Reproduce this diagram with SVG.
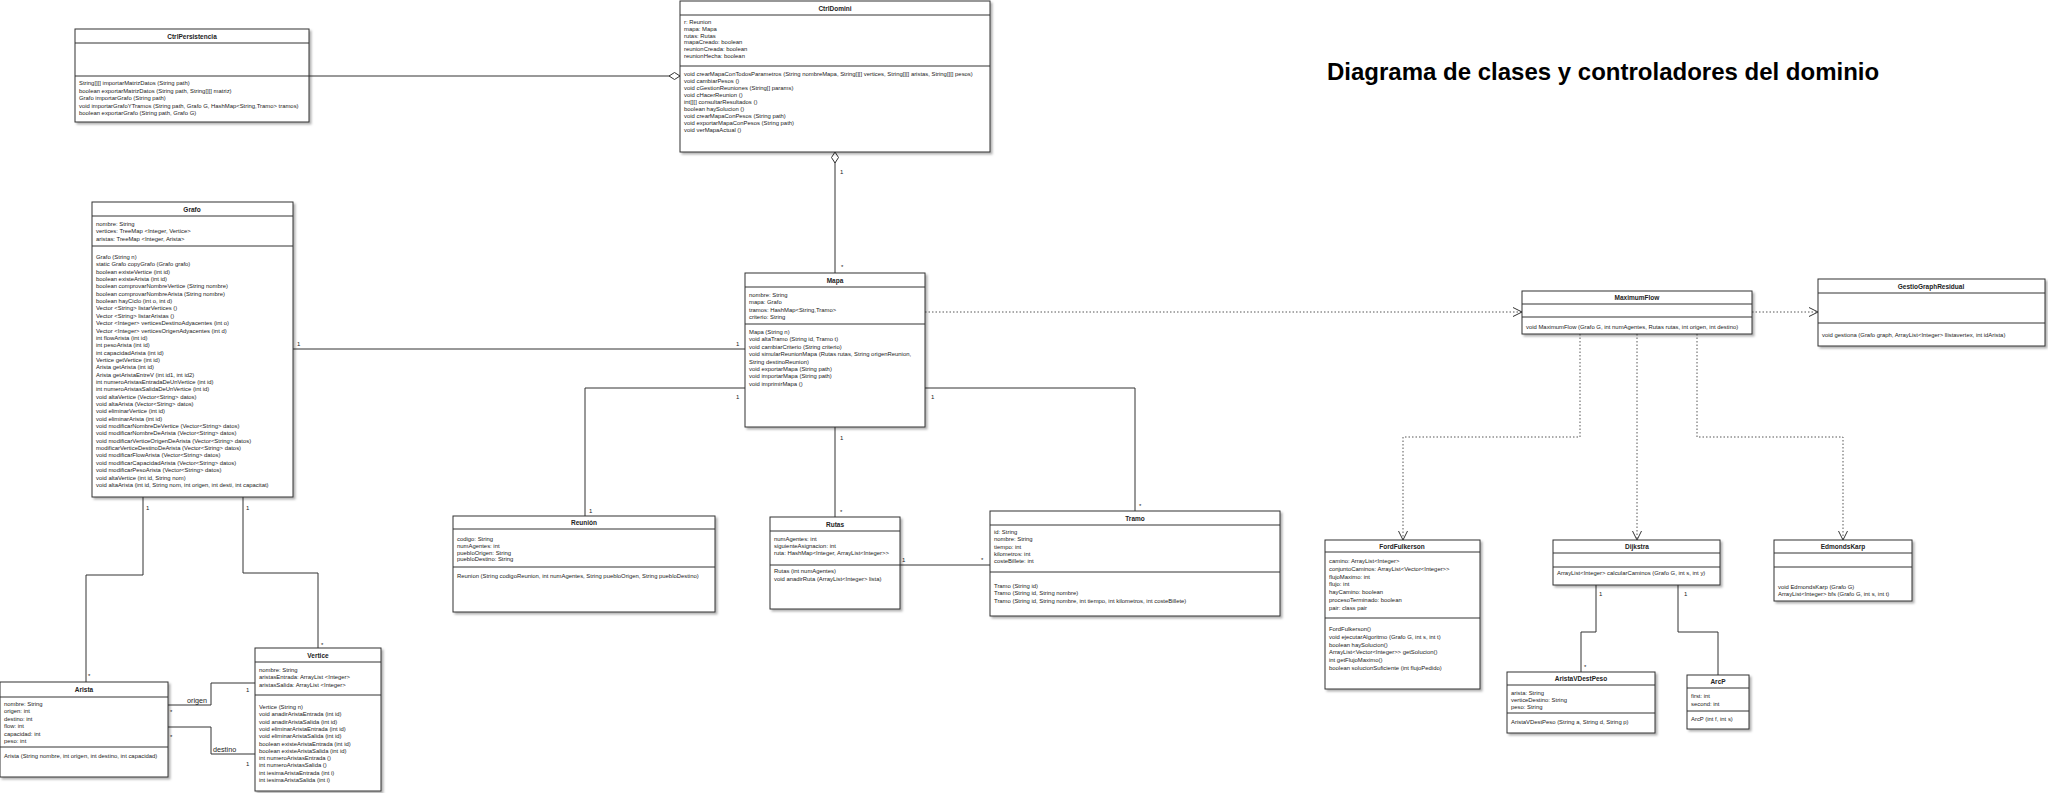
<svg xmlns="http://www.w3.org/2000/svg" width="2048" height="793" viewBox="0 0 2048 793">
<defs>
<filter id="sh" x="-10%" y="-10%" width="120%" height="120%"><feDropShadow dx="2" dy="2" stdDeviation="1" flood-color="#000" flood-opacity="0.3"/></filter>
<marker id="arr" markerUnits="userSpaceOnUse" markerWidth="12" markerHeight="10" refX="10" refY="5" orient="auto"><path d="M1,0.5 L10,5 L1,9.5" fill="none" stroke="#333" stroke-width="1"/></marker>
<marker id="dia" markerUnits="userSpaceOnUse" markerWidth="13" markerHeight="9" refX="12" refY="4.5" orient="auto"><path d="M1,4.5 L6.5,1 L12,4.5 L6.5,8 Z" fill="#fff" stroke="#333" stroke-width="1"/></marker>
</defs>
<style>
.box{fill:#fff;stroke:#333;stroke-width:1;filter:url(#sh)}
.sep{stroke:#333;stroke-width:1}
.h{font-family:"Liberation Sans",Arial,sans-serif;font-size:6.5px;font-weight:bold;text-anchor:middle;fill:#222}
.m{font-family:"Liberation Sans",Arial,sans-serif;font-size:5.9px;fill:#222}
.c{fill:none;stroke:#333;stroke-width:1}
.d{fill:none;stroke:#444;stroke-width:0.9;stroke-dasharray:1.5,2}
.l{font-family:"Liberation Sans",Arial,sans-serif;font-size:6px;fill:#222}
.r{font-family:"Liberation Sans",Arial,sans-serif;font-size:7.2px;fill:#222}
.t{font-family:"Liberation Sans",Arial,sans-serif;font-size:24px;font-weight:bold;fill:#000}
</style>
<rect width="2048" height="793" fill="#fff"/>
<text class="t" x="1327" y="80">Diagrama de clases y controladores del dominio</text>

<g id="connectors">
<path class="c" d="M309,76 H680" marker-end="url(#dia)"/>
<path class="c" d="M835,273 V152" marker-end="url(#dia)"/>
<path class="c" d="M293,349 H745"/>
<path class="c" d="M745,388 H585 V516"/>
<path class="c" d="M835,427 V517"/>
<path class="c" d="M925,388 H1135 V511"/>
<path class="c" d="M900,565 H990"/>
<path class="d" d="M925,312 H1522" marker-end="url(#arr)"/>
<path class="d" d="M1752,312 H1818" marker-end="url(#arr)"/>
<path class="d" d="M1580,334 V437 H1403 V540" marker-end="url(#arr)"/>
<path class="d" d="M1637,334 V540" marker-end="url(#arr)"/>
<path class="d" d="M1697,334 V437 H1843 V540" marker-end="url(#arr)"/>
<path class="c" d="M1596,585 V632 H1581 V672"/>
<path class="c" d="M1678,585 V632 H1718 V675"/>
<path class="c" d="M143,497 V575 H86 V682"/>
<path class="c" d="M243,497 V573 H318 V648"/>
<path class="c" d="M168,705 H211 V683 H255"/>
<path class="c" d="M168,727 H211 V754 H255"/>
<text class="l" x="840" y="174">1</text>
<text class="l" x="841" y="269">*</text>
<text class="l" x="297" y="346">1</text>
<text class="l" x="736" y="346">1</text>
<text class="l" x="736" y="399">1</text>
<text class="l" x="589" y="513">1</text>
<text class="l" x="931" y="399">1</text>
<text class="l" x="1139" y="508">*</text>
<text class="l" x="840" y="440">1</text>
<text class="l" x="840" y="514">*</text>
<text class="l" x="902" y="562">1</text>
<text class="l" x="981" y="562">*</text>
<text class="l" x="1599" y="596">1</text>
<text class="l" x="1684" y="596">1</text>
<text class="l" x="1584" y="669">*</text>
<text class="l" x="146" y="510">1</text>
<text class="l" x="88" y="678">*</text>
<text class="l" x="246" y="510">1</text>
<text class="l" x="321" y="647">*</text>
<text class="r" x="187" y="703">origen</text>
<text class="r" x="213" y="752">destino</text>
<text class="l" x="170" y="714">*</text>
<text class="l" x="170" y="739">*</text>
<text class="l" x="246" y="692">1</text>
<text class="l" x="246" y="766">1</text>
</g>

<g id="CtrlPersistencia">
<rect class="box" x="75" y="29" width="234" height="93"/>
<line class="sep" x1="75" y1="43" x2="309" y2="43"/>
<line class="sep" x1="75" y1="76" x2="309" y2="76"/>
<text class="h" x="192" y="39">CtrlPersistencia</text>
<text class="m" x="79" y="85"><tspan x="79">String[][] importarMatrizDatos (String path)</tspan><tspan x="79" dy="7.6">boolean exportarMatrizDatos (String path, String[][] matriz)</tspan><tspan x="79" dy="7.6">Grafo importarGrafo (String path)</tspan><tspan x="79" dy="7.6">void importarGrafoYTramos (String path, Grafo G, HashMap&lt;String,Tramo&gt; tramos)</tspan><tspan x="79" dy="7.6">boolean exportarGrafo (String path, Grafo G)</tspan></text>
</g>

<g id="CtrlDomini">
<rect class="box" x="680" y="1" width="310" height="151"/>
<line class="sep" x1="680" y1="15" x2="990" y2="15"/>
<line class="sep" x1="680" y1="66" x2="990" y2="66"/>
<text class="h" x="835" y="11">CtrlDomini</text>
<text class="m" x="684" y="24"><tspan x="684">r: Reunion</tspan><tspan x="684" dy="6.8">mapa: Mapa</tspan><tspan x="684" dy="6.8">rutas: Rutas</tspan><tspan x="684" dy="6.8">mapaCreado: boolean</tspan><tspan x="684" dy="6.8">reunionCreada: boolean</tspan><tspan x="684" dy="6.8">reunionHecha: boolean</tspan></text>
<text class="m" x="684" y="76"><tspan x="684">void crearMapaConTodosParametros (String nombreMapa, String[][] vertices, String[][] aristas, String[][] pesos)</tspan><tspan x="684" dy="7">void cambiarPesos ()</tspan><tspan x="684" dy="7">void cGestionReuniones (String[] params)</tspan><tspan x="684" dy="7">void cHacerReunion ()</tspan><tspan x="684" dy="7">int[][] consultarResultados ()</tspan><tspan x="684" dy="7">boolean haySolucion ()</tspan><tspan x="684" dy="7">void crearMapaConPesos (String path)</tspan><tspan x="684" dy="7">void exportarMapaConPesos (String path)</tspan><tspan x="684" dy="7">void verMapaActual ()</tspan></text>
</g>

<g id="Grafo">
<rect class="box" x="92" y="202" width="201" height="295"/>
<line class="sep" x1="92" y1="216" x2="293" y2="216"/>
<line class="sep" x1="92" y1="246" x2="293" y2="246"/>
<text class="h" x="192" y="212">Grafo</text>
<text class="m" x="96" y="226"><tspan x="96">nombre: String</tspan><tspan x="96" dy="7.4">vertices: TreeMap &lt;Integer, Vertice&gt;</tspan><tspan x="96" dy="7.4">aristas: TreeMap &lt;Integer, Arista&gt;</tspan></text>
<text class="m" x="96" y="259"><tspan x="96">Grafo (String n)</tspan><tspan x="96" dy="7.35">static Grafo copyGrafo (Grafo grafo)</tspan><tspan x="96" dy="7.35">boolean existeVertice (int id)</tspan><tspan x="96" dy="7.35">boolean existeArista (int id)</tspan><tspan x="96" dy="7.35">boolean comprovarNombreVertice (String nombre)</tspan><tspan x="96" dy="7.35">boolean comprovarNombreArista (String nombre)</tspan><tspan x="96" dy="7.35">boolean hayCiclo (int o, int d)</tspan><tspan x="96" dy="7.35">Vector &lt;String&gt; listarVertices ()</tspan><tspan x="96" dy="7.35">Vector &lt;String&gt; listarAristas ()</tspan><tspan x="96" dy="7.35">Vector &lt;Integer&gt; verticesDestinoAdyacentes (int o)</tspan><tspan x="96" dy="7.35">Vector &lt;Integer&gt; verticesOrigenAdyacentes (int d)</tspan><tspan x="96" dy="7.35">int flowArista (int id)</tspan><tspan x="96" dy="7.35">int pesoArista (int id)</tspan><tspan x="96" dy="7.35">int capacidadArista (int id)</tspan><tspan x="96" dy="7.35">Vertice getVertice (int id)</tspan><tspan x="96" dy="7.35">Arista getArista (int id)</tspan><tspan x="96" dy="7.35">Arista getAristaEntreV (int id1, int id2)</tspan><tspan x="96" dy="7.35">int numeroAristasEntradaDeUnVertice (int id)</tspan><tspan x="96" dy="7.35">int numeroAristasSalidaDeUnVertice (int id)</tspan><tspan x="96" dy="7.35">void altaVertice (Vector&lt;String&gt; datos)</tspan><tspan x="96" dy="7.35">void altaArista (Vector&lt;String&gt; datos)</tspan><tspan x="96" dy="7.35">void eliminarVertice (int id)</tspan><tspan x="96" dy="7.35">void eliminarArista (int id)</tspan><tspan x="96" dy="7.35">void modificarNombreDeVertice (Vector&lt;String&gt; datos)</tspan><tspan x="96" dy="7.35">void modificarNombreDeArista (Vector&lt;String&gt; datos)</tspan><tspan x="96" dy="7.35">void modificarVerticeOrigenDeArista (Vector&lt;String&gt; datos)</tspan><tspan x="96" dy="7.35">modificarVerticeDestinoDeArista (Vector&lt;String&gt; datos)</tspan><tspan x="96" dy="7.35">void modificarFlowArista (Vector&lt;String&gt; datos)</tspan><tspan x="96" dy="7.35">void modificarCapacidadArista (Vector&lt;String&gt; datos)</tspan><tspan x="96" dy="7.35">void modificarPesoArista (Vector&lt;String&gt; datos)</tspan><tspan x="96" dy="7.35">void altaVertice (int id, String nom)</tspan><tspan x="96" dy="7.35">void altaArista (int id, String nom, int origen, int desti, int capacitat)</tspan></text>
</g>

<g id="Mapa">
<rect class="box" x="745" y="273" width="180" height="154"/>
<line class="sep" x1="745" y1="287" x2="925" y2="287"/>
<line class="sep" x1="745" y1="324" x2="925" y2="324"/>
<text class="h" x="835" y="283">Mapa</text>
<text class="m" x="749" y="297"><tspan x="749">nombre: String</tspan><tspan x="749" dy="7.4">mapa: Grafo</tspan><tspan x="749" dy="7.4">tramos: HashMap&lt;String,Tramo&gt;</tspan><tspan x="749" dy="7.4">criterio: String</tspan></text>
<text class="m" x="749" y="334"><tspan x="749">Mapa (String n)</tspan><tspan x="749" dy="7.4">void altaTramo (String id, Tramo t)</tspan><tspan x="749" dy="7.4">void cambiarCriterio (String criterio)</tspan><tspan x="749" dy="7.4">void simularReunionMapa (Rutas rutas, String origenReunion,</tspan><tspan x="749" dy="7.4">String destinoReunion)</tspan><tspan x="749" dy="7.4">void exportarMapa (String path)</tspan><tspan x="749" dy="7.4">void importarMapa (String path)</tspan><tspan x="749" dy="7.4">void imprimirMapa ()</tspan></text>
</g>

<g id="Reunion">
<rect class="box" x="453" y="516" width="262" height="96"/>
<line class="sep" x1="453" y1="529" x2="715" y2="529"/>
<line class="sep" x1="453" y1="567" x2="715" y2="567" stroke-width="1.5"/>
<text class="h" x="584" y="525">Reunión</text>
<text class="m" x="457" y="541"><tspan x="457">codigo: String</tspan><tspan x="457" dy="6.8">numAgentes: int</tspan><tspan x="457" dy="6.8">puebloOrigen: String</tspan><tspan x="457" dy="6.8">puebloDestino: String</tspan></text>
<text class="m" x="457" y="578">Reunion (String codigoReunion, int numAgentes, String puebloOrigen, String puebloDestino)</text>
</g>

<g id="Rutas">
<rect class="box" x="770" y="517" width="130" height="92"/>
<line class="sep" x1="770" y1="531" x2="900" y2="531"/>
<line class="sep" x1="770" y1="565" x2="900" y2="565"/>
<text class="h" x="835" y="527">Rutas</text>
<text class="m" x="774" y="541"><tspan x="774">numAgentes: int</tspan><tspan x="774" dy="7">siguienteAsignacion: int</tspan><tspan x="774" dy="7">ruta: HashMap&lt;Integer, ArrayList&lt;Integer&gt;&gt;</tspan></text>
<text class="m" x="774" y="573"><tspan x="774">Rutas (int numAgentes)</tspan><tspan x="774" dy="7.6">void anadirRuta (ArrayList&lt;Integer&gt; lista)</tspan></text>
</g>

<g id="Tramo">
<rect class="box" x="990" y="511" width="290" height="105"/>
<line class="sep" x1="990" y1="525" x2="1280" y2="525"/>
<line class="sep" x1="990" y1="572" x2="1280" y2="572"/>
<text class="h" x="1135" y="521">Tramo</text>
<text class="m" x="994" y="534"><tspan x="994">id: String</tspan><tspan x="994" dy="7.3">nombre: String</tspan><tspan x="994" dy="7.3">tiempo: int</tspan><tspan x="994" dy="7.3">kilometros: int</tspan><tspan x="994" dy="7.3">costeBillete: int</tspan></text>
<text class="m" x="994" y="588"><tspan x="994">Tramo (String id)</tspan><tspan x="994" dy="7.4">Tramo (String id, String nombre)</tspan><tspan x="994" dy="7.4">Tramo (String id, String nombre, int tiempo, int kilometros, int costeBillete)</tspan></text>
</g>

<g id="Arista">
<rect class="box" x="0" y="682" width="168" height="95"/>
<line class="sep" x1="0" y1="697" x2="168" y2="697"/>
<line class="sep" x1="0" y1="747" x2="168" y2="747"/>
<text class="h" x="84" y="692">Arista</text>
<text class="m" x="4" y="706"><tspan x="4">nombre: String</tspan><tspan x="4" dy="7.4">origen: int</tspan><tspan x="4" dy="7.4">destino: int</tspan><tspan x="4" dy="7.4">flow: int</tspan><tspan x="4" dy="7.4">capacidad: int</tspan><tspan x="4" dy="7.4">peso: int</tspan></text>
<text class="m" x="4" y="758">Arista (String nombre, int origen, int destino, int capacidad)</text>
</g>

<g id="Vertice">
<rect class="box" x="255" y="648" width="126" height="143"/>
<line class="sep" x1="255" y1="662" x2="381" y2="662"/>
<line class="sep" x1="255" y1="695" x2="381" y2="695"/>
<text class="h" x="318" y="658">Vertice</text>
<text class="m" x="259" y="672"><tspan x="259">nombre: String</tspan><tspan x="259" dy="7.4">aristasEntrada: ArrayList &lt;Integer&gt;</tspan><tspan x="259" dy="7.4">aristasSalida: ArrayList &lt;Integer&gt;</tspan></text>
<text class="m" x="259" y="709"><tspan x="259">Vertice (String n)</tspan><tspan x="259" dy="7.3">void anadirAristaEntrada (int id)</tspan><tspan x="259" dy="7.3">void anadirAristaSalida (int id)</tspan><tspan x="259" dy="7.3">void eliminarAristaEntrada (int id)</tspan><tspan x="259" dy="7.3">void eliminarAristaSalida (int id)</tspan><tspan x="259" dy="7.3">boolean existeAristaEntrada (int id)</tspan><tspan x="259" dy="7.3">boolean existeAristaSalida (int id)</tspan><tspan x="259" dy="7.3">int numeroAristasEntrada ()</tspan><tspan x="259" dy="7.3">int numeroAristasSalida ()</tspan><tspan x="259" dy="7.3">int iesimaAristaEntrada (int i)</tspan><tspan x="259" dy="7.3">int iesimaAristaSalida (int i)</tspan></text>
</g>

<g id="MaximumFlow">
<rect class="box" x="1522" y="291" width="230" height="43"/>
<line class="sep" x1="1522" y1="304" x2="1752" y2="304"/>
<line class="sep" x1="1522" y1="317" x2="1752" y2="317"/>
<text class="h" x="1637" y="300">MaximumFlow</text>
<text class="m" x="1526" y="329">void MaximumFlow (Grafo G, int numAgentes, Rutas rutas, int origen, int destino)</text>
</g>

<g id="GestioGraphResidual">
<rect class="box" x="1818" y="279" width="227" height="67"/>
<line class="sep" x1="1818" y1="293" x2="2045" y2="293"/>
<line class="sep" x1="1818" y1="323" x2="2045" y2="323"/>
<text class="h" x="1931" y="289">GestioGraphResidual</text>
<text class="m" x="1822" y="337">void gestiona (Grafo graph, ArrayList&lt;Integer&gt; llistavertex, int idArista)</text>
</g>

<g id="FordFulkerson">
<rect class="box" x="1325" y="540" width="155" height="149"/>
<line class="sep" x1="1325" y1="552" x2="1480" y2="552"/>
<line class="sep" x1="1325" y1="618" x2="1480" y2="618"/>
<text class="h" x="1402" y="549">FordFulkerson</text>
<text class="m" x="1329" y="563"><tspan x="1329">camino: ArrayList&lt;Integer&gt;</tspan><tspan x="1329" dy="7.8">conjuntoCaminos: ArrayList&lt;Vector&lt;Integer&gt;&gt;</tspan><tspan x="1329" dy="7.8">flujoMaximo: int</tspan><tspan x="1329" dy="7.8">flujo: int</tspan><tspan x="1329" dy="7.8">hayCamino: boolean</tspan><tspan x="1329" dy="7.8">procesoTerminado: boolean</tspan><tspan x="1329" dy="7.8">pair: class pair</tspan></text>
<text class="m" x="1329" y="631"><tspan x="1329">FordFulkerson()</tspan><tspan x="1329" dy="7.8">void ejecutarAlgoritmo (Grafo G, int s, int t)</tspan><tspan x="1329" dy="7.8">boolean haySolucion()</tspan><tspan x="1329" dy="7.8">ArrayList&lt;Vector&lt;Integer&gt;&gt; getSolucion()</tspan><tspan x="1329" dy="7.8">int getFlujoMaximo()</tspan><tspan x="1329" dy="7.8">boolean solucionSuficiente (int flujoPedido)</tspan></text>
</g>

<g id="Dijkstra">
<rect class="box" x="1553" y="540" width="167" height="45"/>
<line class="sep" x1="1553" y1="553" x2="1720" y2="553"/>
<line class="sep" x1="1553" y1="567" x2="1720" y2="567"/>
<text class="h" x="1637" y="549">Dijkstra</text>
<text class="m" x="1557" y="575">ArrayList&lt;Integer&gt; calcularCaminos (Grafo G, int s, int y)</text>
</g>

<g id="EdmondsKarp">
<rect class="box" x="1774" y="540" width="138" height="61"/>
<line class="sep" x1="1774" y1="553" x2="1912" y2="553"/>
<line class="sep" x1="1774" y1="567" x2="1912" y2="567"/>
<text class="h" x="1843" y="549">EdmondsKarp</text>
<text class="m" x="1778" y="589"><tspan x="1778">void EdmondsKarp (Grafo G)</tspan><tspan x="1778" dy="7.4">ArrayList&lt;Integer&gt; bfs (Grafo G, int s, int t)</tspan></text>
</g>

<g id="AristaVDestPeso">
<rect class="box" x="1507" y="672" width="148" height="61"/>
<line class="sep" x1="1507" y1="685" x2="1655" y2="685"/>
<line class="sep" x1="1507" y1="713" x2="1655" y2="713"/>
<text class="h" x="1581" y="681">AristaVDestPeso</text>
<text class="m" x="1511" y="695"><tspan x="1511">arista: String</tspan><tspan x="1511" dy="7">verticeDestino: String</tspan><tspan x="1511" dy="7">peso: String</tspan></text>
<text class="m" x="1511" y="724">AristaVDestPeso (String a, String d, String p)</text>
</g>

<g id="ArcP">
<rect class="box" x="1687" y="675" width="62" height="54"/>
<line class="sep" x1="1687" y1="688" x2="1749" y2="688"/>
<line class="sep" x1="1687" y1="711" x2="1749" y2="711"/>
<text class="h" x="1718" y="684">ArcP</text>
<text class="m" x="1691" y="698"><tspan x="1691">first: int</tspan><tspan x="1691" dy="7.6">second: int</tspan></text>
<text class="m" x="1691" y="721">ArcP (int f, int s)</text>
</g>
</svg>
